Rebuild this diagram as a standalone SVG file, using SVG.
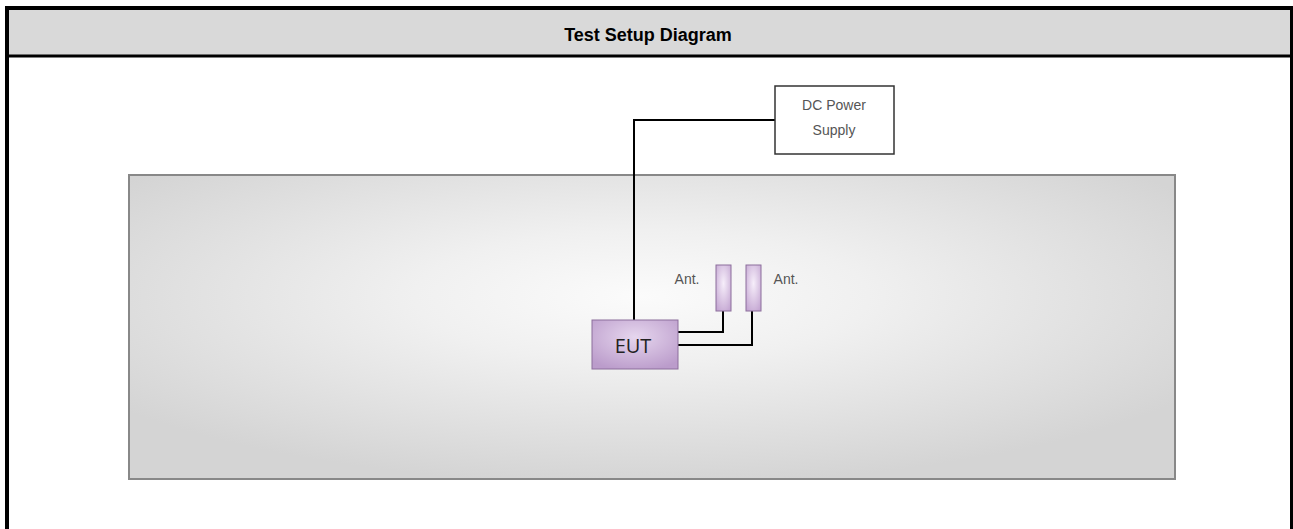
<svg xmlns="http://www.w3.org/2000/svg" width="1293" height="529" viewBox="0 0 1293 529">
<style>
.title{font-family:"Liberation Sans",Arial,sans-serif;font-weight:bold;font-size:18px;fill:#000;text-anchor:middle}
.lbl{font-family:"Liberation Sans",Arial,sans-serif;font-size:14px;fill:#555;text-anchor:middle}
.wire{fill:none;stroke:#000;stroke-width:2}
.eut{font-family:"Open Sans","Noto Sans",sans-serif;font-size:20px;fill:#222;text-anchor:middle}
</style>
<defs>
<radialGradient id="room" cx="0.49" cy="0.4" r="0.62" gradientUnits="objectBoundingBox">
<stop offset="0" stop-color="#fbfbfb"/>
<stop offset="0.35" stop-color="#f0f0f0"/>
<stop offset="1" stop-color="#d4d4d4"/>
</radialGradient>
<radialGradient id="purple" cx="0.5" cy="0.35" r="0.7">
<stop offset="0" stop-color="#e6d6ee"/>
<stop offset="1" stop-color="#bb9ccb"/>
</radialGradient>
<radialGradient id="antg" cx="0.5" cy="0.4" r="0.7">
<stop offset="0" stop-color="#f6eefa"/>
<stop offset="1" stop-color="#c4a6d2"/>
</radialGradient>
</defs>
<rect x="0" y="0" width="1293" height="529" fill="#fff"/>
<g id="header">
<rect x="7" y="8" width="1285" height="48" fill="#d9d9d9"/>
<text class="title" x="648" y="41">Test Setup Diagram</text>
</g>
<g id="frame">
<line x1="7" y1="6" x2="7" y2="529" stroke="#000" stroke-width="4"/>
<line x1="1292" y1="6" x2="1292" y2="529" stroke="#000" stroke-width="4"/>
<line x1="5" y1="8" x2="1293" y2="8" stroke="#000" stroke-width="4"/>
<line x1="7" y1="56" x2="1292" y2="56" stroke="#000" stroke-width="3"/>
</g>
<g id="room">
<rect x="129" y="175" width="1046" height="304" fill="url(#room)" stroke="#888" stroke-width="2"/>
</g>
<g id="connectors">
<polyline class="wire" points="775,120 634,120 634,321"/>
<polyline class="wire" points="678,332 723,332 723,311"/>
<polyline class="wire" points="678,345 752,345 752,311"/>
</g>
<g id="dc-power-supply">
<rect x="775" y="86" width="119" height="68" fill="#fff" stroke="#333" stroke-width="1.5"/>
<text class="lbl" x="834" y="110">DC Power</text>
<text class="lbl" x="834" y="135">Supply</text>
</g>
<g id="ant1">
<rect x="716" y="265" width="15" height="46" fill="url(#antg)" stroke="#8c6e9c" stroke-width="1"/>
<text class="lbl" x="687" y="284">Ant.</text>
</g>
<g id="ant2">
<rect x="746" y="265" width="15" height="46" fill="url(#antg)" stroke="#8c6e9c" stroke-width="1"/>
<text class="lbl" x="786" y="284">Ant.</text>
</g>
<g id="eut">
<rect x="592" y="320" width="86" height="49" fill="url(#purple)" stroke="#8c6e9c" stroke-width="1"/>
<text class="eut" x="633" y="353">EUT</text>
</g>
</svg>
